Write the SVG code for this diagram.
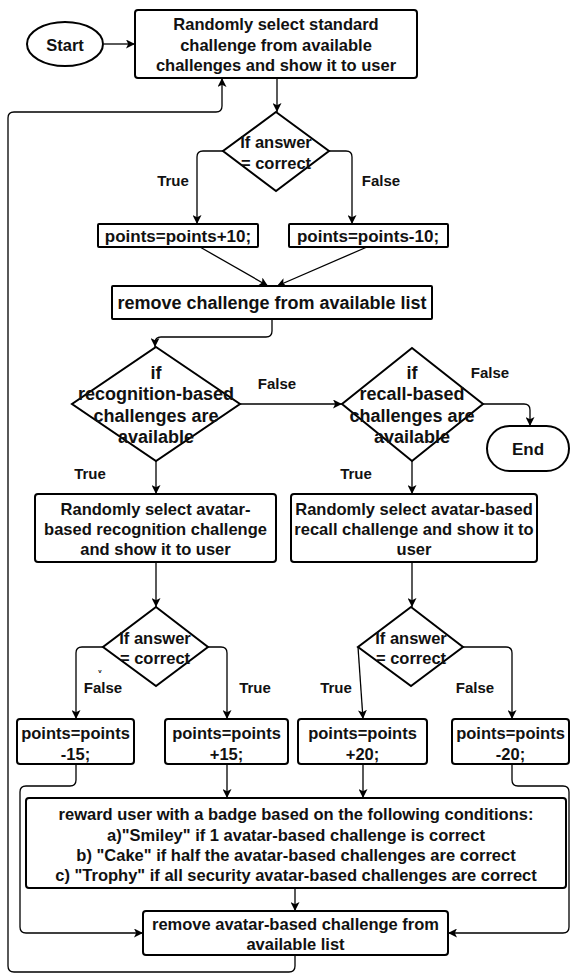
<svg xmlns="http://www.w3.org/2000/svg" width="571" height="975" viewBox="0 0 571 975">
<defs>
<marker id="arr" markerUnits="userSpaceOnUse" markerWidth="10" markerHeight="9" refX="9" refY="4.5" orient="auto">
<path d="M0,0 L9,4.5 L0,9 L2.2,4.5 z" fill="#000"/>
</marker>
<style>
.box{fill:#fff;stroke:#000;stroke-width:2}
.con{fill:none;stroke:#000;stroke-width:1.3;marker-end:url(#arr)}
.ln{fill:none;stroke:#000;stroke-width:1.3}
text{font-family:"Liberation Sans",Arial,sans-serif;font-weight:bold;text-anchor:middle;dominant-baseline:central;fill:#111;font-size:16.5px}
.lbl{font-size:15px}
.big{font-size:18px}
.mid{font-size:17px}
</style>
</defs>
<rect width="571" height="975" fill="#fff"/>
<g id="connectors">
<path class="con" d="M104,44 H135"/>
<path class="con" d="M277,78 V112"/>
<path class="con" d="M223,151 H203 Q197,151 197,157 V224"/>
<path class="con" d="M329,151 H346 Q352,151 352,157 V224"/>
<path class="con" d="M200,247 L268,286"/>
<path class="con" d="M367,247 L277,286"/>
<path class="con" d="M272,319 V331 Q272,337 266,337 H161 Q155,337 155,343 V347"/>
<path class="con" d="M240,404 H342"/>
<path class="con" d="M483,404 H524 Q530,404 530,410 V426"/>
<path class="con" d="M156,461 V494"/>
<path class="con" d="M412,461 V494"/>
<path class="con" d="M156,562 V607"/>
<path class="con" d="M412,562 V607"/>
<path class="con" d="M103,647 H82 Q76,647 76,653 V719"/>
<path class="con" d="M208,647 H221 Q227,647 227,653 V719"/>
<path class="con" d="M358,647 L363,719"/>
<path class="con" d="M463,647 H506 Q512,647 512,653 V719"/>
<path class="con" d="M76,764 V780 Q76,786 70,786 H26 Q20,786 20,792 V927 Q20,933 26,933 H143"/>
<path class="con" d="M227,764 V798"/>
<path class="con" d="M363,764 V798"/>
<path class="con" d="M512,764 V780 Q512,786 518,786 H563 Q569,786 569,792 V927 Q569,933 563,933 H448"/>
<path class="con" d="M295,888 V911"/>
<path class="con" d="M295,955 V966 Q295,972 289,972 H14 Q8,972 8,966 V118 Q8,112 14,112 H216 Q222,112 222,106 V78"/>
<text class="lbl" x="173" y="180">True</text>
<text class="lbl" x="381" y="180">False</text>
<text class="lbl" x="277" y="383">False</text>
<text class="lbl" x="490" y="372">False</text>
<text class="lbl" x="90" y="473">True</text>
<text class="lbl" x="356" y="473">True</text>
<text class="lbl" x="103" y="687">False</text>
<text class="lbl" x="255" y="687">True</text>
<text class="lbl" x="336" y="687">True</text>
<text class="lbl" x="475" y="687">False</text>
<text x="100" y="671" style="font-size:6px">v</text>
</g>
<g id="start">
<ellipse class="box" cx="65" cy="44" rx="38" ry="22"/>
<text x="65" y="45">Start</text>
</g>
<g id="select-standard">
<rect class="box" x="135" y="10" width="282" height="68" rx="3"/>
<text x="276" y="24">Randomly select standard</text>
<text x="276" y="45">challenge from available</text>
<text x="276" y="65">challenges and show it to user</text>
</g>
<g id="answer1">
<polygon class="box" points="276,112 329,151 276,191 223,151"/>
<text x="276" y="142">If answer</text>
<text x="276" y="163">= correct</text>
</g>
<g id="plus10">
<rect class="box" x="98" y="224" width="160" height="23" rx="1"/>
<text class="mid" x="178" y="236">points=points+10;</text>
</g>
<g id="minus10">
<rect class="box" x="289" y="224" width="159" height="23" rx="1"/>
<text class="mid" x="368" y="236">points=points-10;</text>
</g>
<g id="remove-challenge">
<rect class="box" x="112" y="286" width="320" height="33" rx="1"/>
<text class="big" x="272" y="303">remove challenge from available list</text>
</g>
<g id="recognition-available">
<polygon class="box" points="156,347 240,404 156,461 72,404"/>
<text class="big" x="156" y="373">if</text>
<text class="big" x="156" y="394">recognition-based</text>
<text class="big" x="156" y="416">challenges are</text>
<text class="big" x="156" y="437">available</text>
</g>
<g id="recall-available">
<polygon class="box" points="412,348 483,404 412,461 342,404"/>
<text class="big" x="412" y="373">if</text>
<text class="big" x="412" y="394">recall-based</text>
<text class="big" x="412" y="416">challenges are</text>
<text class="big" x="412" y="437">available</text>
</g>
<g id="end">
<rect class="box" x="487" y="426" width="82" height="45" rx="22.5"/>
<text class="mid" x="528" y="449">End</text>
</g>
<g id="recognition-challenge">
<rect class="box" x="35" y="494" width="241" height="68" rx="3"/>
<text x="155.5" y="509">Randomly select avatar-</text>
<text x="155.5" y="529">based recognition challenge</text>
<text x="155.5" y="549">and show it to user</text>
</g>
<g id="recall-challenge">
<rect class="box" x="291" y="494" width="246" height="68" rx="3"/>
<text x="414" y="509">Randomly select avatar-based</text>
<text x="414" y="529">recall challenge and show it to</text>
<text x="414" y="549">user</text>
</g>
<g id="answer2">
<polygon class="box" points="156,607 208,647 156,686 103,647"/>
<text x="155" y="638">If answer</text>
<text x="155" y="658">= correct</text>
</g>
<g id="answer3">
<polygon class="box" points="411,607 463,647 411,686 358,647"/>
<text x="411" y="638">If answer</text>
<text x="411" y="658">= correct</text>
</g>
<g id="minus15">
<rect class="box" x="17" y="719" width="117" height="45" rx="3"/>
<text x="75.5" y="733">points=points</text>
<text x="75.5" y="754">-15;</text>
</g>
<g id="plus15">
<rect class="box" x="165" y="719" width="123" height="45" rx="3"/>
<text x="226.5" y="733">points=points</text>
<text x="226.5" y="754">+15;</text>
</g>
<g id="plus20">
<rect class="box" x="298" y="719" width="129" height="45" rx="3"/>
<text x="362.5" y="733">points=points</text>
<text x="362.5" y="754">+20;</text>
</g>
<g id="minus20">
<rect class="box" x="452" y="719" width="117" height="45" rx="3"/>
<text x="510.5" y="733">points=points</text>
<text x="510.5" y="754">-20;</text>
</g>
<g id="reward">
<rect class="box" x="26" y="798" width="540" height="90" rx="3"/>
<text x="296" y="814">reward user with a badge based on the following conditions:</text>
<text x="296" y="835">a)"Smiley" if 1 avatar-based challenge is correct</text>
<text x="296" y="855">b) "Cake" if half the avatar-based challenges are correct</text>
<text x="296" y="875">c) "Trophy" if all security avatar-based challenges are correct</text>
</g>
<g id="remove-avatar">
<rect class="box" x="143" y="911" width="305" height="44" rx="3"/>
<text x="295.5" y="924">remove avatar-based challenge from</text>
<text x="295.5" y="944">available list</text>
</g>
</svg>
